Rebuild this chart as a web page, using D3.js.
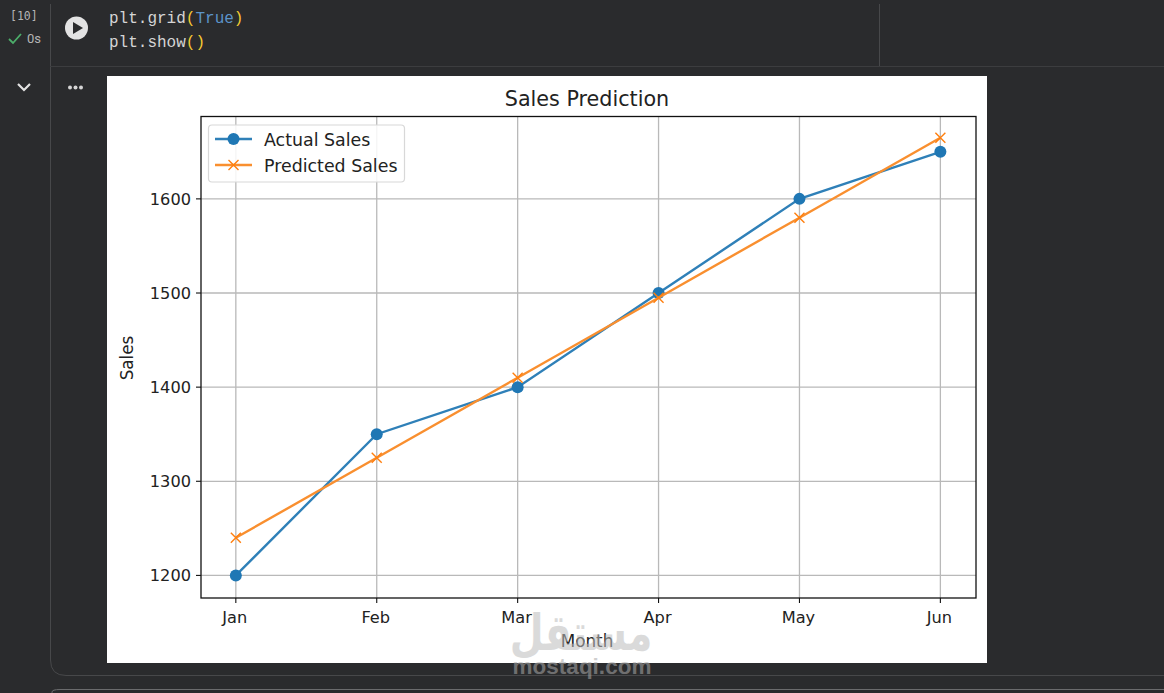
<!DOCTYPE html>
<html>
<head>
    <title>Sales Prediction</title>
    <meta charset="utf-8">
    <style>
        html, body { margin: 0; padding: 0; background: #2a2b2d; overflow: hidden; }
        svg { display: block; }
        .code { font-family: 'Liberation Mono', monospace; font-size: 16px; fill: #d5d5d5; }
        .plot text { font-family: 'DejaVu Sans', sans-serif; fill: #222; }
        .tick-label { font-size: 16.2px; }
        .axis-label { font-size: 16.8px; }
    </style>
</head>
<body>
<svg id="page" width="1164" height="693"></svg>
<script src="https://d3js.org/d3.v7.min.js"></script>
<script>
    var months = ['Jan', 'Feb', 'Mar', 'Apr', 'May', 'Jun'];
    var actualSales = [1200, 1350, 1400, 1500, 1600, 1650];
    var predictedSales = [1240, 1325, 1410, 1495, 1580, 1665];
    var yTicks = [1200, 1300, 1400, 1500, 1600];

    var blue = '#1f77b4';
    var orange = '#ff7f0e';
    var gridColor = '#b9b9b9';

    var svg = d3.select('#page');

    // notebook chrome
    var chrome = svg.append('g');
    var chromeLine = '#47484a';

    chrome.append('line').attr('x1', 50.5).attr('x2', 50.5).attr('y1', 4).attr('y2', 660).attr('stroke', chromeLine);
    chrome.append('path')
        .attr('d', 'M50.5,660 Q50.5,675.5 66,675.5 H1164')
        .attr('fill', 'none').attr('stroke', chromeLine);
    chrome.append('line').attr('x1', 50).attr('x2', 1164).attr('y1', 66.5).attr('y2', 66.5).attr('stroke', '#3c3d3f');
    chrome.append('line').attr('x1', 879.5).attr('x2', 879.5).attr('y1', 4).attr('y2', 66).attr('stroke', chromeLine);
    chrome.append('path')
        .attr('d', 'M52,693 V692 Q52,689.5 60,689.5 H1164')
        .attr('fill', 'none').attr('stroke', '#6a6b6d');

    chrome.append('text').attr('x', 10).attr('y', 20)
        .style('font-family', "'DejaVu Sans Mono', monospace").style('font-size', '11.5px').attr('fill', '#b5b5b5').text('[10]');
    chrome.append('path').attr('d', 'M9,39 L13,43 L21,34')
        .attr('fill', 'none').attr('stroke', '#4cae6a').attr('stroke-width', 1.8);
    chrome.append('text').attr('x', 27).attr('y', 42.5)
        .style('font-family', "'Roboto', sans-serif").style('font-size', '13px').attr('fill', '#b5b5b5').text('0s');

    chrome.append('circle').attr('cx', 76.5).attr('cy', 28).attr('r', 11.5).attr('fill', '#e3e3e3');
    chrome.append('path').attr('d', 'M73,22 L83,28 L73,34 Z').attr('fill', '#2a2b2d');

    var line1 = chrome.append('text').attr('class', 'code').attr('x', 109).attr('y', 23);
    line1.append('tspan').text('plt.grid');
    line1.append('tspan').style('fill', '#f5c932').text('(');
    line1.append('tspan').style('fill', '#5c93c9').text('True');
    line1.append('tspan').style('fill', '#f5c932').text(')');
    var line2 = chrome.append('text').attr('class', 'code').attr('x', 109).attr('y', 47);
    line2.append('tspan').text('plt.show');
    line2.append('tspan').style('fill', '#f5c932').text('()');

    chrome.append('path').attr('d', 'M18,84 L24,90 L30,84')
        .attr('fill', 'none').attr('stroke', '#e3e3e3').attr('stroke-width', 2.2);
    chrome.selectAll('circle.dot').data(['a', 'b', 'c']).enter().append('circle')
        .attr('class', 'dot')
        .attr('cx', function (d, i) { return 70 + i * 5.5; })
        .attr('cy', 87.5).attr('r', 2).attr('fill', '#d5d5d5');

    // figure
    var plot = svg.append('g').attr('class', 'plot');
    plot.append('rect').attr('x', 107).attr('y', 76).attr('width', 880).attr('height', 587).attr('fill', '#fff');

    var axLeft = 201, axRight = 976, axTop = 116.5, axBottom = 598;

    var x = d3.scalePoint().domain(months).range([axLeft - 0.4, axRight - 0.4]).padding(0.25);
    var y = d3.scaleLinear().domain([1176.75, 1688.25]).range([axBottom - 0.7, axTop - 0.7]);

    var grid = plot.append('g');
    grid.selectAll('line.gx').data(months).enter().append('line')
        .attr('class', 'gx')
        .attr('x1', function (d) { return x(d); })
        .attr('x2', function (d) { return x(d); })
        .attr('y1', axTop).attr('y2', axBottom)
        .attr('stroke', gridColor).attr('stroke-width', 1.3);
    grid.selectAll('line.gy').data(yTicks).enter().append('line')
        .attr('class', 'gy')
        .attr('x1', axLeft).attr('x2', axRight)
        .attr('y1', function (d) { return y(d); })
        .attr('y2', function (d) { return y(d); })
        .attr('stroke', gridColor).attr('stroke-width', 1.3);

    var lineGen = d3.line()
        .x(function (d, i) { return x(months[i]); })
        .y(function (d) { return y(d); });

    function crossPath(cx, cy, r) {
        return 'M' + (cx - r) + ',' + (cy - r) + 'L' + (cx + r) + ',' + (cy + r) +
               'M' + (cx - r) + ',' + (cy + r) + 'L' + (cx + r) + ',' + (cy - r);
    }

    plot.append('path').attr('d', lineGen(actualSales))
        .attr('fill', 'none').attr('stroke', '#2f80b8').attr('stroke-width', 2.4);
    plot.selectAll('circle.actual').data(actualSales).enter().append('circle')
        .attr('class', 'actual')
        .attr('cx', function (d, i) { return x(months[i]); })
        .attr('cy', function (d) { return y(d); })
        .attr('r', 6).attr('fill', blue);

    plot.append('path').attr('d', lineGen(predictedSales))
        .attr('fill', 'none').attr('stroke', '#f98f2f').attr('stroke-width', 2.4);
    plot.selectAll('path.pred').data(predictedSales).enter().append('path')
        .attr('class', 'pred')
        .attr('d', function (d, i) { return crossPath(x(months[i]), y(d), 5); })
        .attr('fill', 'none').attr('stroke', orange).attr('stroke-width', 1.4);

    // frame and ticks
    plot.append('rect').attr('x', axLeft).attr('y', axTop)
        .attr('width', axRight - axLeft).attr('height', axBottom - axTop)
        .attr('fill', 'none').attr('stroke', '#111').attr('stroke-width', 1.3);

    plot.selectAll('line.tx').data(months).enter().append('line')
        .attr('class', 'tx')
        .attr('x1', function (d) { return x(d); })
        .attr('x2', function (d) { return x(d); })
        .attr('y1', axBottom).attr('y2', axBottom + 5)
        .attr('stroke', '#111').attr('stroke-width', 1.1);
    plot.selectAll('line.ty').data(yTicks).enter().append('line')
        .attr('class', 'ty')
        .attr('x1', axLeft - 5).attr('x2', axLeft)
        .attr('y1', function (d) { return y(d); })
        .attr('y2', function (d) { return y(d); })
        .attr('stroke', '#111').attr('stroke-width', 1.1);

    plot.selectAll('text.xl').data(months).enter().append('text')
        .attr('class', 'tick-label xl')
        .attr('x', function (d) { return x(d) - 1; })
        .attr('y', axBottom + 25)
        .attr('text-anchor', 'middle')
        .text(function (d) { return d; });
    plot.selectAll('text.yl').data(yTicks).enter().append('text')
        .attr('class', 'tick-label yl')
        .attr('x', axLeft - 10)
        .attr('y', function (d) { return y(d) + 6; })
        .attr('text-anchor', 'end')
        .text(function (d) { return d; });

    plot.append('text').attr('x', 587).attr('y', 105.5)
        .attr('text-anchor', 'middle').style('font-size', '20.7px').text('Sales Prediction');
    plot.append('text').attr('class', 'axis-label').attr('x', 587).attr('y', 647)
        .attr('text-anchor', 'middle').text('Month');
    plot.append('text').attr('class', 'axis-label')
        .attr('transform', 'translate(133,358) rotate(-90)')
        .attr('text-anchor', 'middle').text('Sales');

    // legend
    var legend = plot.append('g');
    legend.append('rect').attr('x', 208.5).attr('y', 125).attr('width', 196).attr('height', 57).attr('rx', 3.5)
        .attr('fill', '#fff').attr('fill-opacity', 0.85).attr('stroke', '#d8d8d8').attr('stroke-width', 1.2);
    legend.append('line').attr('x1', 215).attr('x2', 252).attr('y1', 139).attr('y2', 139)
        .attr('stroke', '#2f80b8').attr('stroke-width', 2.4);
    legend.append('circle').attr('cx', 233.5).attr('cy', 139).attr('r', 6).attr('fill', blue);
    legend.append('line').attr('x1', 215).attr('x2', 252).attr('y1', 165).attr('y2', 165)
        .attr('stroke', '#f98f2f').attr('stroke-width', 2.4);
    legend.append('path').attr('d', crossPath(233.5, 165, 5))
        .attr('fill', 'none').attr('stroke', orange).attr('stroke-width', 1.4);
    legend.append('text').attr('x', 264).attr('y', 145.5).style('font-size', '17.4px').text('Actual Sales');
    legend.append('text').attr('x', 264).attr('y', 171.5).style('font-size', '17.4px').text('Predicted Sales');

    // watermark
    var mark = svg.append('g').attr('text-anchor', 'middle').attr('opacity', 0.55);
    mark.append('text')
        .attr('transform', 'translate(581,650) scale(0.78,1)')
        .style('font-family', "'Noto Sans', 'DejaVu Sans', sans-serif")
        .style('font-weight', 'bold').style('font-size', '50px')
        .attr('fill', '#bdbdbd').text('مستقل');
    mark.append('text').attr('x', 582).attr('y', 674)
        .style('font-family', "'Liberation Sans', sans-serif")
        .style('font-weight', 'bold').style('font-size', '22.5px')
        .attr('fill', '#a8a8a8').text('mostaqi.com');
</script>
</body>
</html>
